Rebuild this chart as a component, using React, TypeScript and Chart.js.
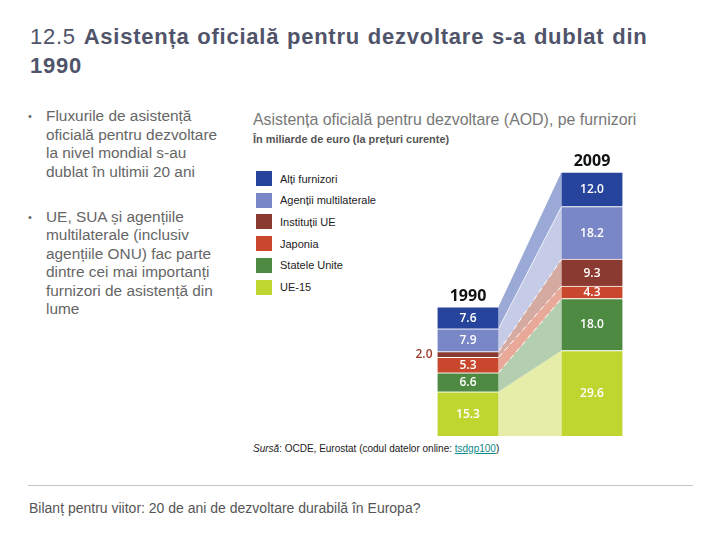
import React, { useEffect, useRef } from "react";
import { Chart, registerables } from "chart.js";

Chart.register(...registerables);

const years = ["1990", "2009"];
const seriesNames = [
  "UE-15",
  "Statele Unite",
  "Japonia",
  "Instituții UE",
  "Agenții multilaterale",
  "Alți furnizori",
];
const ue15 = [15.3, 29.6];
const statele = [6.6, 18.0];
const japonia = [5.3, 4.3];
const institutii = [2.0, 9.3];
const agentii = [7.9, 18.2];
const alti = [7.6, 12.0];

const barColors = ["#bfd630", "#4f8a43", "#c9482d", "#8a3a30", "#7a87c6", "#26449b"];
const bandColors = ["#e5eda9", "#b3cfb0", "#e9a999", "#d4aaa1", "#c6cbe8", "#9ba9d7"];

const connectorPlugin = {
  id: "connector",
  beforeDatasetsDraw(chart: any) {
    const ctx = chart.ctx;
    const n = chart.data.datasets.length;
    for (let i = 0; i < n; i++) {
      const meta = chart.getDatasetMeta(i);
      const a = meta.data[0];
      const b = meta.data[1];
      const ax = a.x + a.width / 2;
      const bx = b.x - b.width / 2;
      ctx.save();
      ctx.beginPath();
      ctx.moveTo(ax, a.y);
      ctx.lineTo(bx, b.y);
      ctx.lineTo(bx, b.base);
      ctx.lineTo(ax, a.base);
      ctx.closePath();
      ctx.fillStyle = bandColors[i];
      ctx.fill();
      ctx.restore();
    }
    for (let i = 1; i <= 4; i++) {
      const meta = chart.getDatasetMeta(i);
      const a = meta.data[0];
      const b = meta.data[1];
      ctx.save();
      ctx.beginPath();
      ctx.moveTo(a.x + a.width / 2, a.y);
      ctx.lineTo(b.x - b.width / 2, b.y);
      ctx.strokeStyle = i === 4 ? "rgba(255,255,255,0.7)" : "#ffffff";
      ctx.lineWidth = 1;
      if (i < 4) ctx.setLineDash([5, 4]);
      ctx.stroke();
      ctx.restore();
    }
  },
  afterDatasetsDraw(chart: any) {
    const ctx = chart.ctx;
    const n = chart.data.datasets.length;
    ctx.save();
    ctx.textAlign = "center";
    ctx.textBaseline = "middle";
    for (let i = 0; i < n; i++) {
      const meta = chart.getDatasetMeta(i);
      const vals = chart.data.datasets[i].data;
      meta.data.forEach((bar: any, j: number) => {
        const v = vals[j];
        const cy = (bar.y + bar.base) / 2;
        const txt = v.toFixed(1);
        ctx.font = "600 12px 'Open Sans', sans-serif";
        if (bar.base - bar.y < 9) {
          ctx.fillStyle = "#9c3b2c";
          ctx.textAlign = "right";
          ctx.fillText(txt, bar.x - bar.width / 2 - 5, cy);
          ctx.textAlign = "center";
        } else {
          ctx.fillStyle = "#ffffff";
          ctx.fillText(txt, bar.x, cy + 0.5);
        }
      });
    }
    const topMeta = chart.getDatasetMeta(n - 1);
    ctx.fillStyle = "#111111";
    ctx.font = "bold 16px 'Open Sans', sans-serif";
    ctx.textBaseline = "alphabetic";
    topMeta.data.forEach((bar: any, j: number) => {
      ctx.fillText(chart.data.labels[j], bar.x, bar.y - 6);
    });
    ctx.restore();
  },
};

function ChartBox() {
  const ref = useRef<HTMLCanvasElement | null>(null);
  useEffect(() => {
    const series = [ue15, statele, japonia, institutii, agentii, alti];
    const chart = new Chart(ref.current as HTMLCanvasElement, {
      type: "bar",
      data: {
        labels: years,
        datasets: series.map((d, i) => ({
          label: seriesNames[i],
          data: d,
          backgroundColor: barColors[i],
          borderColor: "#ffffff",
          borderWidth: { top: 1, bottom: 0, left: 0, right: 0 },
          borderSkipped: false,
          barThickness: 61,
        })),
      },
      options: {
        animation: false,
        responsive: true,
        maintainAspectRatio: false,
        layout: { padding: { left: 6, right: 6, top: 10, bottom: 4 } },
        plugins: { legend: { display: false }, tooltip: { enabled: false } },
        scales: {
          x: { stacked: true, display: false },
          y: { stacked: true, display: false, min: 0, max: 99 },
        },
      },
      plugins: [connectorPlugin],
    });
    return () => chart.destroy();
  }, []);
  return (
    <div style={{ position: "absolute", left: 400, top: 140, width: 260, height: 300 }}>
      <canvas ref={ref} />
    </div>
  );
}

const legendOrder = [5, 4, 3, 2, 1, 0];

export default function App() {
  const titleColor = "#50546a";
  return (
    <div
      style={{
        position: "absolute",
        left: 0,
        top: 0,
        width: 720,
        height: 540,
        background: "#fff",
        fontFamily: "'Liberation Sans', Arial, sans-serif",
        overflow: "hidden",
      }}
    >
      <div
        style={{
          position: "absolute",
          left: 30,
          top: 22,
          fontSize: 22,
          letterSpacing: 0.75,
          wordSpacing: 1,
          lineHeight: "29px",
          color: titleColor,
          width: 690,
          whiteSpace: "nowrap",
        }}
      >
        12.5 <b>Asistența oficială pentru dezvoltare s-a dublat din</b>
        <br />
        <b>1990</b>
      </div>

      <div style={{ position: "absolute", left: 28, top: 107, fontSize: 15.4, lineHeight: "18.5px", color: "#666", whiteSpace: "nowrap" }}>
        <div style={{ position: "relative", paddingLeft: 18 }}>
          <span style={{ position: "absolute", left: 0, top: 0, fontSize: 11 }}>•</span>
          Fluxurile de asistență
          <br />
          oficială pentru dezvoltare
          <br />
          la nivel mondial s-au
          <br />
          dublat în ultimii 20 ani
        </div>
        <div style={{ position: "relative", paddingLeft: 18, marginTop: 26.5 }}>
          <span style={{ position: "absolute", left: 0, top: 0, fontSize: 11 }}>•</span>
          UE, SUA și agențiile
          <br />
          multilaterale (inclusiv
          <br />
          agențiile ONU) fac parte
          <br />
          dintre cei mai importanți
          <br />
          furnizori de asistență din
          <br />
          lume
        </div>
      </div>

      <div style={{ position: "absolute", left: 253, top: 111, fontSize: 15.9, color: "#777", whiteSpace: "nowrap" }}>
        Asistența oficială pentru dezvoltare (AOD), pe furnizori
      </div>
      <div style={{ position: "absolute", left: 253, top: 133, fontSize: 10.9, fontWeight: "bold", color: "#555", whiteSpace: "nowrap" }}>
        În miliarde de euro (la prețuri curente)
      </div>

      {legendOrder.map((idx, k) => (
        <div
          key={idx}
          style={{ position: "absolute", left: 256, top: 171 + k * 21.7, height: 15, display: "flex", alignItems: "center" }}
        >
          <div style={{ width: 16, height: 15, background: barColors[idx] }} />
          <span style={{ marginLeft: 8, fontSize: 11, color: "#222", whiteSpace: "nowrap" }}>{seriesNames[idx]}</span>
        </div>
      ))}

      <ChartBox />

      <div style={{ position: "absolute", left: 253, top: 443, fontSize: 10, color: "#222", whiteSpace: "nowrap" }}>
        <i>Sursă</i>: OCDE, Eurostat (codul datelor online:{" "}
        <span style={{ color: "#0e8a8a", textDecoration: "underline" }}>tsdgp100</span>)
      </div>

      <div style={{ position: "absolute", left: 28, top: 485, width: 665, height: 1, background: "#c4c4c4" }} />

      <div style={{ position: "absolute", left: 29, top: 500, fontSize: 14, color: "#555", whiteSpace: "nowrap" }}>
        Bilanț pentru viitor: 20 de ani de dezvoltare durabilă în Europa?
      </div>
    </div>
  );
}
